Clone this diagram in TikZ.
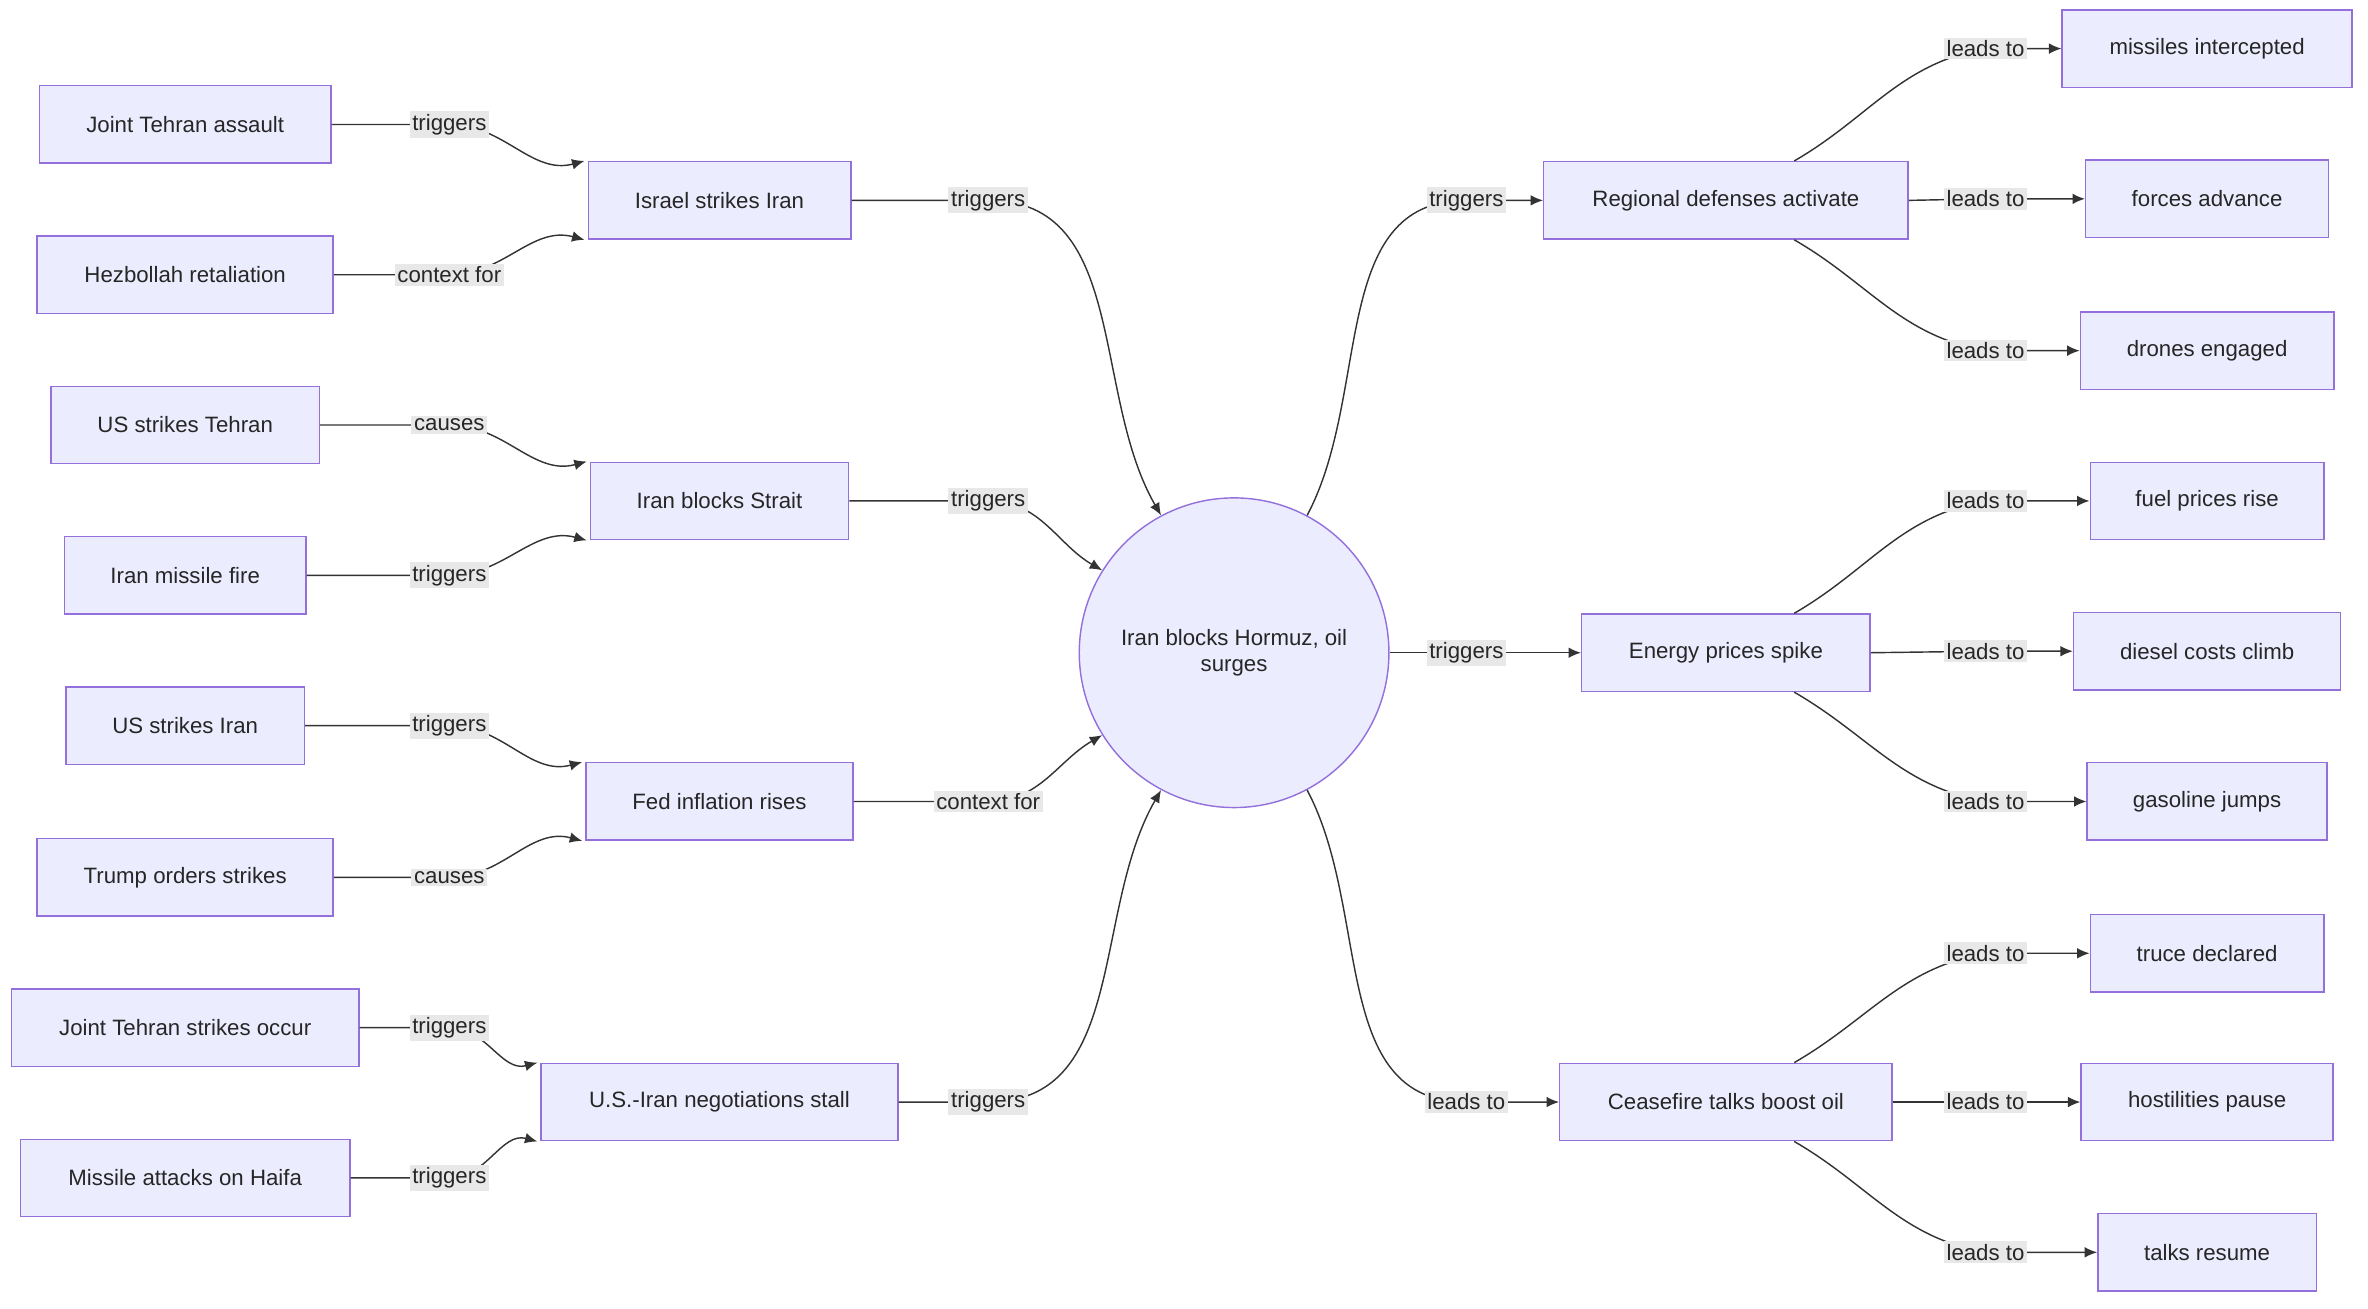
\documentclass[tikz,border=0pt]{standalone}
\usepackage{fontspec}
\setmainfont{Liberation Sans}
\usetikzlibrary{arrows.meta}
\usetikzlibrary{calc}
\definecolor{boxfill}{HTML}{ECECFF}
\definecolor{boxline}{HTML}{9370DB}
\definecolor{lblfill}{HTML}{E8E8E8}
\tikzset{basic/.style={draw=boxline,fill=boxfill,line width=0.8pt,
                       text badly centered,inner sep=0pt,minimum height=1.53cm,
                       font=\fontsize{12.5}{15}\selectfont,text=black!85}}
\tikzset{box/.style={basic,rectangle}}
\tikzset{hubnode/.style={basic,circle,minimum size=6.12cm,text width=5.2cm}}
\begin{document}
\begin{tikzpicture}[x=0.03cm,y=-0.03cm,link/.style={draw=black!80,line width=0.8pt,-{Latex[length=7pt,width=6pt]}}]
    \tikzstyle{lbl}=[fill=lblfill,inner sep=1.5pt,font=\fontsize{12.5}{15}\selectfont,text=black!85]
    \useasboundingbox (0,0) rectangle (1560,862);

    % Left column
    \foreach \name/\y/\w/\txt in {a1/82/192/Joint Tehran assault,a2/181/195/Hezbollah retaliation,
        b1/280/177/US strikes Tehran,b2/379/159/Iran missile fire,
        c1/478/157/US strikes Iran,c2/578/195/Trump orders strikes,
        d1/677/229/Joint Tehran strikes occur,d2/776/217/Missile attacks on Haifa}
        \node[box,minimum width=\w*0.03cm] (\name) at (122,\y) {\txt};

    % Middle column
    \foreach \name/\y/\w/\txt in {a/132/173/Israel strikes Iran,b/330/170/Iran blocks Strait,
        c/528/176/Fed inflation rises,d/726/235/U.S.-Iran negotiations stall}
        \node[box,minimum width=\w*0.03cm] (\name) at (474,\y) {\txt};

    \node[hubnode] (hub) at (813,430) {Iran blocks Hormuz, oil surges};

    % Right middle column
    \node[box,minimum width=240*0.03cm] (reg) at (1137,132) {Regional defenses activate};
    \node[box,minimum width=190*0.03cm] (nrg) at (1137,430) {Energy prices spike};
    \node[box,minimum width=219*0.03cm] (cea) at (1137,726) {Ceasefire talks boost oil};

    % Right column
    \foreach \name/\y/\w/\txt in {r1/32/191/missiles intercepted,r2/131/160/forces advance,r3/231/167/drones engaged,
        e1/330/154/fuel prices rise,e2/429/176/diesel costs climb,e3/528/158/gasoline jumps,
        t1/628/154/truce declared,t2/726/166/hostilities pause,t3/825/144/talks resume}
        \node[box,minimum width=\w*0.03cm] (\name) at (1454,\y) {\txt};

    % Left column to middle column
    \foreach \src/\dst/\txt in {a1/a/triggers,b1/b/causes,c1/c/triggers,d1/d/triggers}
        \draw[link] (\src.east) -- (296,0 |- \src.east) node[lbl] {\txt}
            to[out=0,in=195] ($(\dst.north west)+(-2,0)$);
    \foreach \src/\dst/\txt in {a2/a/context for,b2/b/triggers,c2/c/causes,d2/d/triggers}
        \draw[link] (\src.east) -- (296,0 |- \src.east) node[lbl] {\txt}
            to[out=0,in=165] ($(\dst.south west)+(-2,0)$);

    % Middle column to hub
    \foreach \src/\ang/\inang/\txt in {a/118/120/triggers,b/148/150/triggers,c/212/210/context for,d/242/240/triggers}
        \draw[link] (\src.east) -- (651,0 |- \src.east) node[lbl] {\txt}
            to[out=0,in=\inang] (hub.\ang);

    % Hub to right middle column
    \draw[link] (hub.62) to[out=62,in=180] (966,132) node[lbl] {triggers} -- (reg.west);
    \draw[link] (hub.east) -- (966,430) node[lbl] {triggers} -- (nrg.west);
    \draw[link] (hub.-62) to[out=-62,in=180] (966,726) node[lbl] {leads to} -- (cea.west);

    % Right middle column to right column
    \foreach \src/\top/\mid/\bot in {reg/r1/r2/r3,nrg/e1/e2/e3,cea/t1/t2/t3} {
        \draw[link] ($(\src.north)+(45,0)$) to[out=30,in=190] (1308,0 |- \top.west) node[lbl] {leads to} -- (\top.west);
        \draw[link] (\src.east) -- (1308,0 |- \mid.west) node[lbl] {leads to} -- (\mid.west);
        \draw[link] ($(\src.south)+(45,0)$) to[out=-30,in=170] (1308,0 |- \bot.west) node[lbl] {leads to} -- (\bot.west);
    }
\end{tikzpicture}
\end{document}
